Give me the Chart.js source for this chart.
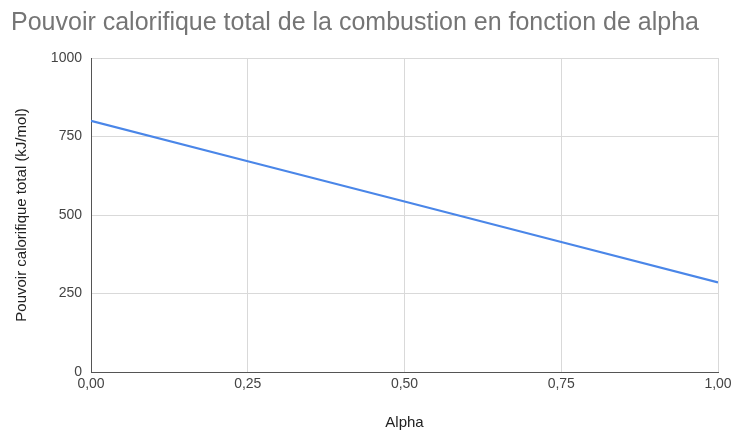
<!DOCTYPE html>
<html>
<head>
<meta charset="utf-8">
<script src="https://cdn.jsdelivr.net/npm/chart.js@4/dist/chart.umd.min.js"></script>
<style>
  html, body { margin: 0; padding: 0; background: #ffffff; }
  #wrap { width: 734px; height: 432px; position: relative; }
</style>
</head>
<body>
<div id="wrap"><canvas id="c" width="734" height="432"></canvas></div>
<script>
// Alpha values and total heating value (kJ/mol)
const alphaValues = [0, 0.25, 0.5, 0.75, 1];
const heatValues = [800, 671, 543, 414, 285];
const xTickValues = [0, 0.25, 0.5, 0.75, 1];
const yTickValues = [0, 250, 500, 750, 1000];

const FONT = "'Liberation Sans', Arial, sans-serif";
const points = alphaValues.map((a, i) => ({ x: a, y: heatValues[i] }));

new Chart(document.getElementById('c'), {
  type: 'line',
  data: {
    datasets: [{
      data: points,
      borderColor: '#4a86e8',
      borderWidth: 2.2,
      pointRadius: 0,
      tension: 0,
      fill: false
    }]
  },
  options: {
    responsive: false,
    animation: false,
    layout: { padding: { top: 0, left: 11, right: 16, bottom: 0 } },
    plugins: {
      legend: { display: false },
      tooltip: { enabled: false },
      title: {
        display: true,
        text: 'Pouvoir calorifique total de la combustion en fonction de alpha',
        align: 'start',
        color: '#757575',
        font: { family: FONT, size: 25, weight: 'normal', lineHeight: 1.2 },
        padding: { top: 8, bottom: 20 }
      }
    },
    scales: {
      x: {
        type: 'linear',
        min: 0,
        max: 1,
        afterBuildTicks: (s) => { s.ticks = xTickValues.map(v => ({ value: v })); },
        afterFit: (s) => { s.height = 60; s.paddingLeft = 0; s.paddingRight = 0; },
        ticks: {
          color: '#444444',
          font: { family: FONT, size: 14 },
          padding: 4,
          maxRotation: 0,
          callback: (v) => Number(v).toFixed(2).replace('.', ',')
        },
        grid: { color: '#d9d9d9', drawTicks: false },
        border: { color: '#555555', width: 1 },
        title: {
          display: true,
          text: 'Alpha',
          color: '#222222',
          font: { family: FONT, size: 15 },
          padding: { top: 0, bottom: 0 }
        }
      },
      y: {
        type: 'linear',
        min: 0,
        max: 1000,
        afterBuildTicks: (s) => { s.ticks = yTickValues.map(v => ({ value: v })); },
        afterFit: (s) => { s.width = 80; },
        ticks: {
          color: '#444444',
          font: { family: FONT, size: 14 },
          padding: 9,
          callback: (v) => String(v)
        },
        grid: { color: '#d9d9d9', drawTicks: false },
        border: { color: '#555555', width: 1 },
        title: {
          display: true,
          text: 'Pouvoir calorifique total (kJ/mol)',
          color: '#222222',
          font: { family: FONT, size: 15 },
          padding: { top: 2, bottom: 0 }
        }
      }
    }
  }
});
</script>
</body>
</html>
